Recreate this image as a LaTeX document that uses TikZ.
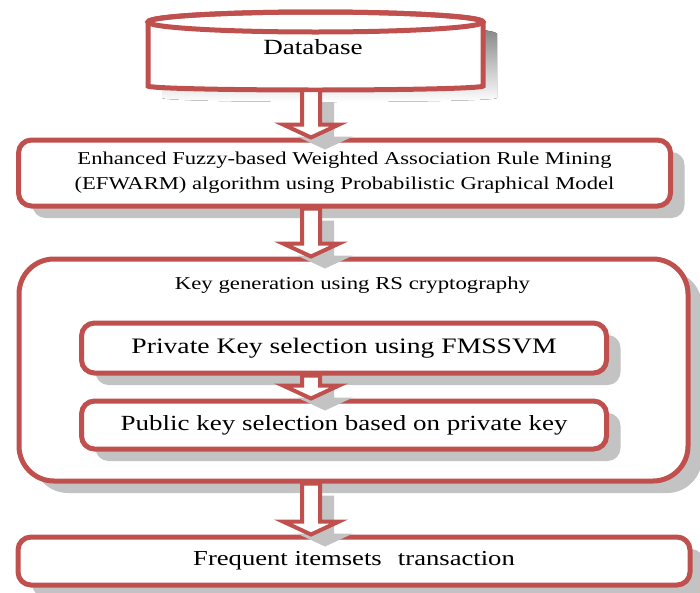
\documentclass[tikz,border=0pt]{standalone}
\usepackage{fontspec}
\setmainfont[FakeStretch=1.25]{Liberation Serif}
\usetikzlibrary{shadows,calc}
\definecolor{frame}{HTML}{C0504D}
\definecolor{shade}{HTML}{C3C3C3}
\tikzset{
  x=1pt, y=1pt,
  boxframe/.style={draw=frame, line width=5pt, fill=white},
  box/.style={boxframe, rounded corners=13pt, inner sep=0pt, align=center,
    drop shadow={shadow xshift=14pt, shadow yshift=-12pt, fill=shade, opacity=1}},
  bigbox/.style={box, rounded corners=35pt},
  shadowpart/.style={fill=shade, draw=none},
  arrowpart/.style={draw=frame, line width=4pt, fill=white, line join=miter},
}
% hollow block arrow from the lower side of #1 to the upper side of #2,
% running along the vertical line through the coordinate "axis"
\newcommand\blockarrow[2]{%
  \path let \p1=(#1.south -| axis), \p2=(#2.north -| axis) in
    [shadowpart] (\x1-9pt+14pt,\y1-12pt) -- (\x1-9pt+14pt,\y2+13pt-12pt)
      -- (\x1-28pt+14pt,\y2+13pt-12pt) -- (\x1+14pt,\y2-12pt)
      -- (\x1+28pt+14pt,\y2+13pt-12pt) -- (\x1+9pt+14pt,\y2+13pt-12pt)
      -- (\x1+9pt+14pt,\y1-12pt) -- cycle;
  \path let \p1=(#1.south -| axis), \p2=(#2.north -| axis) in
    [arrowpart] (\x1-9pt,\y1) -- (\x1-9pt,\y2+13pt) -- (\x1-28pt,\y2+13pt)
      -- (\x1,\y2) -- (\x1+28pt,\y2+13pt) -- (\x1+9pt,\y2+13pt)
      -- (\x1+9pt,\y1) -- cycle;}
\begin{document}
\begin{tikzpicture}
\useasboundingbox (0,0) rectangle (700,-592);
\coordinate (axis) at (311,0);

% database drum
\node[inner sep=0pt, minimum width=335pt, minimum height=78pt] (db) at (315.5,-51) {};
\fill[shade, xshift=14pt, yshift=-12pt] (148,-22) -- (148,-86)
  arc[start angle=180, end angle=360, x radius=167.5, y radius=4] -- (483,-22)
  arc[start angle=0, end angle=180, x radius=167.5, y radius=10] -- cycle;
\draw[boxframe] (148,-22) -- (148,-86)
  arc[start angle=180, end angle=360, x radius=167.5, y radius=4] -- (483,-22)
  arc[start angle=0, end angle=180, x radius=167.5, y radius=10] -- cycle;
\draw[draw=frame, line width=5pt] (315.5,-22) ellipse [x radius=167.5, y radius=10];
\node[font=\fontsize{21.7}{24}\selectfont] (dbtext) at (313,-47) {Database};

% mining step
\node[box, minimum width=652pt, minimum height=66pt,
      font=\fontsize{18.1}{25}\selectfont] (mine) at (344.5,-173)
  {Enhanced Fuzzy-based Weighted Association Rule Mining\\
   (EFWARM) algorithm using Probabilistic Graphical Model};

% key generation group
\node[bigbox, minimum width=669pt, minimum height=222pt] (keygen) at (353.5,-370) {};
\node[font=\fontsize{18.2}{20}\selectfont] (keytitle) at (352.5,-285)
  {Key generation using RS cryptography};
\node[box, minimum width=525pt, minimum height=50pt,
      font=\fontsize{22.1}{24}\selectfont] (priv) at (344,-348)
  {Private Key selection using FMSSVM};
\node[box, minimum width=525pt, minimum height=48pt,
      font=\fontsize{21.6}{24}\selectfont] (pub) at (344,-425)
  {Public key selection based on private key};

% output step
\node[box, minimum width=672pt, minimum height=48pt,
      font=\fontsize{21.3}{24}\selectfont] (freq) at (354,-561)
  {Frequent itemsets\hspace{0.45em} transaction};

\blockarrow{db}{mine}
\blockarrow{mine}{keygen}
\blockarrow{priv}{pub}
\blockarrow{keygen}{freq}
\end{tikzpicture}
\end{document}
